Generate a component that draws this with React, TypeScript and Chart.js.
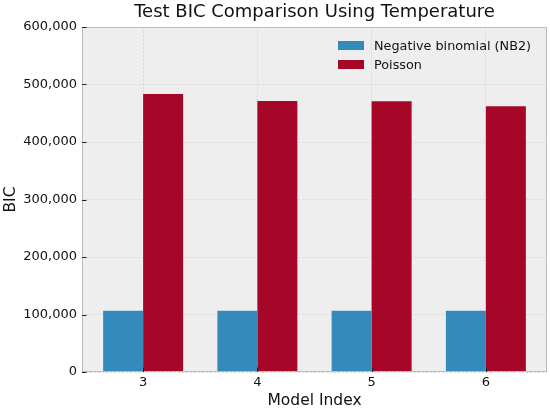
import { useEffect, useRef } from 'react'
import { Chart, registerables, type Plugin } from 'chart.js'

Chart.register(...registerables)

// ─── Data ────────────────────────────────────────────────────────────────────

const MODEL_INDEX = [3, 4, 5, 6]
const NB2_BIC     = [106600, 106600, 106600, 106600]
const POISSON_BIC = [483500, 471300, 470800, 462000]
const Y_TICKS     = [0, 100000, 200000, 300000, 400000, 500000, 600000]

const SERIES_LABELS = ['Negative binomial (NB2)', 'Poisson']

// ─── Style ───────────────────────────────────────────────────────────────────

const FONT       = '"DejaVu Sans", "Liberation Sans", sans-serif'
const COLOR_NB2  = '#348ABD'
const COLOR_POIS = '#A60628'
const AXES_BG    = '#eeeeee'
const AXES_EDGE  = '#bcbcbc'
const GRID       = '#d6d6d6'
const TEXT       = '#111111'

// Axes face, frame on four sides and inward tick marks (bmh look)
const axesDecor: Plugin<'bar'> = {
  id: 'axesDecor',
  beforeDraw(chart) {
    const { ctx, chartArea: a } = chart
    ctx.save()
    ctx.fillStyle = AXES_BG
    ctx.fillRect(a.left, a.top, a.right - a.left, a.bottom - a.top)
    ctx.restore()
  },
  afterDatasetsDraw(chart) {
    const { ctx, chartArea: a } = chart
    const x = chart.scales.x
    const y = chart.scales.y
    ctx.save()
    ctx.strokeStyle = AXES_EDGE
    ctx.lineWidth = 1
    ctx.strokeRect(a.left + 0.5, a.top + 0.5, a.right - a.left - 1, a.bottom - a.top - 1)

    ctx.strokeStyle = '#222'
    ctx.lineWidth = 1
    ctx.beginPath()
    x.ticks.forEach((t) => {
      const px = Math.round(x.getPixelForValue(t.value)) + 0.5
      ctx.moveTo(px, a.bottom)
      ctx.lineTo(px, a.bottom - 4.5)
    })
    y.ticks.forEach((t) => {
      const py = Math.round(y.getPixelForValue(t.value)) + 0.5
      ctx.moveTo(a.left, py)
      ctx.lineTo(a.left + 4.5, py)
    })
    ctx.stroke()
    ctx.restore()
  },
}

// ─── Component ───────────────────────────────────────────────────────────────

export default function App() {
  const canvasRef = useRef<HTMLCanvasElement>(null)

  useEffect(() => {
    const canvas = canvasRef.current
    if (!canvas) return

    const chart = new Chart(canvas, {
      type: 'bar',
      data: {
        datasets: [
          {
            label: SERIES_LABELS[0],
            data: MODEL_INDEX.map((m, i) => ({ x: m, y: NB2_BIC[i] })),
            backgroundColor: COLOR_NB2,
            borderWidth: 0,
          },
          {
            label: SERIES_LABELS[1],
            data: MODEL_INDEX.map((m, i) => ({ x: m, y: POISSON_BIC[i] })),
            backgroundColor: COLOR_POIS,
            borderWidth: 0,
          },
        ],
      },
      options: {
        animation: false,
        responsive: true,
        maintainAspectRatio: false,
        categoryPercentage: 0.7,
        barPercentage: 1,
        layout: { padding: { left: 0, right: 3, top: 0, bottom: 0 } },
        plugins: {
          legend: { display: false },
          tooltip: { enabled: false },
          title: {
            display: true,
            text: 'Test BIC Comparison Using Temperature',
            color: TEXT,
            fullSize: false,
            font: { family: FONT, size: 18, weight: 'normal' },
            padding: { top: 2, bottom: 3.4 },
          },
        },
        scales: {
          x: {
            type: 'linear',
            min: MODEL_INDEX[0] - 0.535,
            max: MODEL_INDEX[MODEL_INDEX.length - 1] + 0.535,
            offset: false,
            afterBuildTicks: (scale) => {
              scale.ticks = MODEL_INDEX.map((v) => ({ value: v }))
            },
            afterFit: (scale) => {
              scale.height = 40
            },
            ticks: {
              color: TEXT,
              font: { family: FONT, size: 13 },
              padding: 3,
              maxRotation: 0,
              callback: (v) => String(v),
            },
            grid: {
              offset: false,
              color: GRID,
              lineWidth: 0.8,
              drawTicks: false,
            },
            border: { display: false, dash: [2.5, 1.5] },
            title: {
              display: true,
              text: 'Model Index',
              color: TEXT,
              font: { family: FONT, size: 15.5 },
              padding: { top: 1.6, bottom: 1.4 },
            },
          },
          y: {
            min: 0,
            max: 600000,
            afterBuildTicks: (scale) => {
              scale.ticks = Y_TICKS.map((v) => ({ value: v }))
            },
            afterFit: (scale) => {
              scale.width = 82
            },
            ticks: {
              color: TEXT,
              font: { family: FONT, size: 13 },
              padding: 5,
              callback: (v) => Number(v).toLocaleString('en-US'),
            },
            grid: {
              color: GRID,
              lineWidth: 0.8,
              drawTicks: false,
            },
            border: { display: false, dash: [2.5, 1.5] },
            title: {
              display: true,
              text: 'BIC',
              color: TEXT,
              font: { family: FONT, size: 15.5 },
              padding: { top: 1.7, bottom: 2 },
            },
          },
        },
      },
      plugins: [axesDecor],
    })

    return () => chart.destroy()
  }, [])

  const legendColors = [COLOR_NB2, COLOR_POIS]

  return (
    <div style={{ position: 'fixed', left: 0, top: 0, width: 550, height: 412, background: '#fff' }}>
      <canvas ref={canvasRef} style={{ display: 'block', width: '100%', height: '100%' }} />
      <div style={{ position: 'absolute', left: 338, top: 35.5, fontFamily: FONT, fontSize: 12.8, color: TEXT }}>
        {SERIES_LABELS.map((label, i) => (
          <div key={label} style={{ display: 'flex', alignItems: 'center', height: 19 }}>
            <span style={{ display: 'inline-block', width: 26, height: 9, background: legendColors[i], marginRight: 10 }} />
            <span style={{ whiteSpace: 'nowrap' }}>{label}</span>
          </div>
        ))}
      </div>
    </div>
  )
}
